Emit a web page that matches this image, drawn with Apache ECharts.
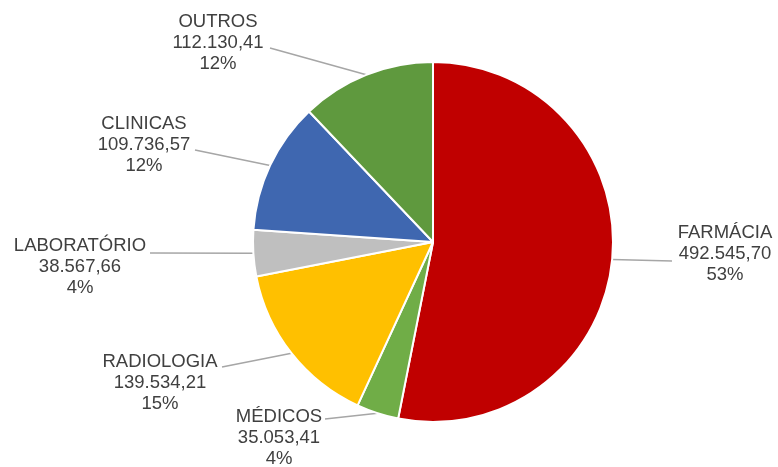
<!DOCTYPE html>
<html>
<head>
<meta charset="utf-8">
<script src="https://cdn.jsdelivr.net/npm/echarts@6/dist/echarts.min.js"></script>
<style>html,body{margin:0;padding:0;background:#fff}#c{width:778px;height:467px}</style>
</head>
<body>
<div id="c"></div>
<script>
const categories = ['FARMÁCIA', 'MÉDICOS', 'RADIOLOGIA', 'LABORATÓRIO', 'CLINICAS', 'OUTROS'];
const values = [492545.70, 35053.41, 139534.21, 38567.66, 109736.57, 112130.41];
const colors = ['#C00000', '#70AD47', '#FFC000', '#BFBFBF', '#3F67B0', '#5F993E'];

// label placement (block centre) and leader-line end point
const labelPlaces = [
  { x: 725, y: 254, lx: 672, ly: 261 },
  { x: 279, y: 438, lx: 325, ly: 419 },
  { x: 160, y: 383, lx: 222, ly: 367 },
  { x: 80,  y: 267, lx: 150, ly: 253 },
  { x: 144, y: 145, lx: 195, ly: 150 },
  { x: 218, y: 43,  lx: 270, ly: 48 }
];

function fmt(v) {
  const parts = v.toFixed(2).split('.');
  const int = parts[0].replace(/\B(?=(\d{3})+(?!\d))/g, '.');
  return int + ',' + parts[1];
}

const chart = echarts.init(document.getElementById('c'));
chart.setOption({
  backgroundColor: '#ffffff',
  animation: false,
  series: [{
    type: 'pie',
    center: [433, 242],
    radius: [0, 180],
    startAngle: 90,
    clockwise: true,
    percentPrecision: 0,
    itemStyle: { borderColor: '#ffffff', borderWidth: 2 },
    label: {
      show: true,
      position: 'outside',
      formatter: function (p) { return p.name + '\n' + fmt(p.value) + '\n' + Math.round(p.percent) + '%'; },
      color: '#404040',
      fontSize: 18.5,
      lineHeight: 21,
      fontFamily: 'Liberation Sans, Arial, sans-serif',
      align: 'center'
    },
    labelLine: { show: true, lineStyle: { color: '#A6A6A6', width: 1.5 }, length: 20, length2: 20 },
    labelLayout: function (params) {
      const pl = labelPlaces[params.dataIndex];
      const p0 = params.labelLinePoints ? params.labelLinePoints[0] : [pl.lx, pl.ly];
      return {
        x: pl.x, y: pl.y, align: 'center', verticalAlign: 'middle',
        labelLinePoints: [p0, [pl.lx, pl.ly], [pl.lx, pl.ly]]
      };
    },
    data: categories.map((c, i) => ({ name: c, value: values[i], itemStyle: { color: colors[i] } }))
  }]
});
</script>
</body>
</html>
